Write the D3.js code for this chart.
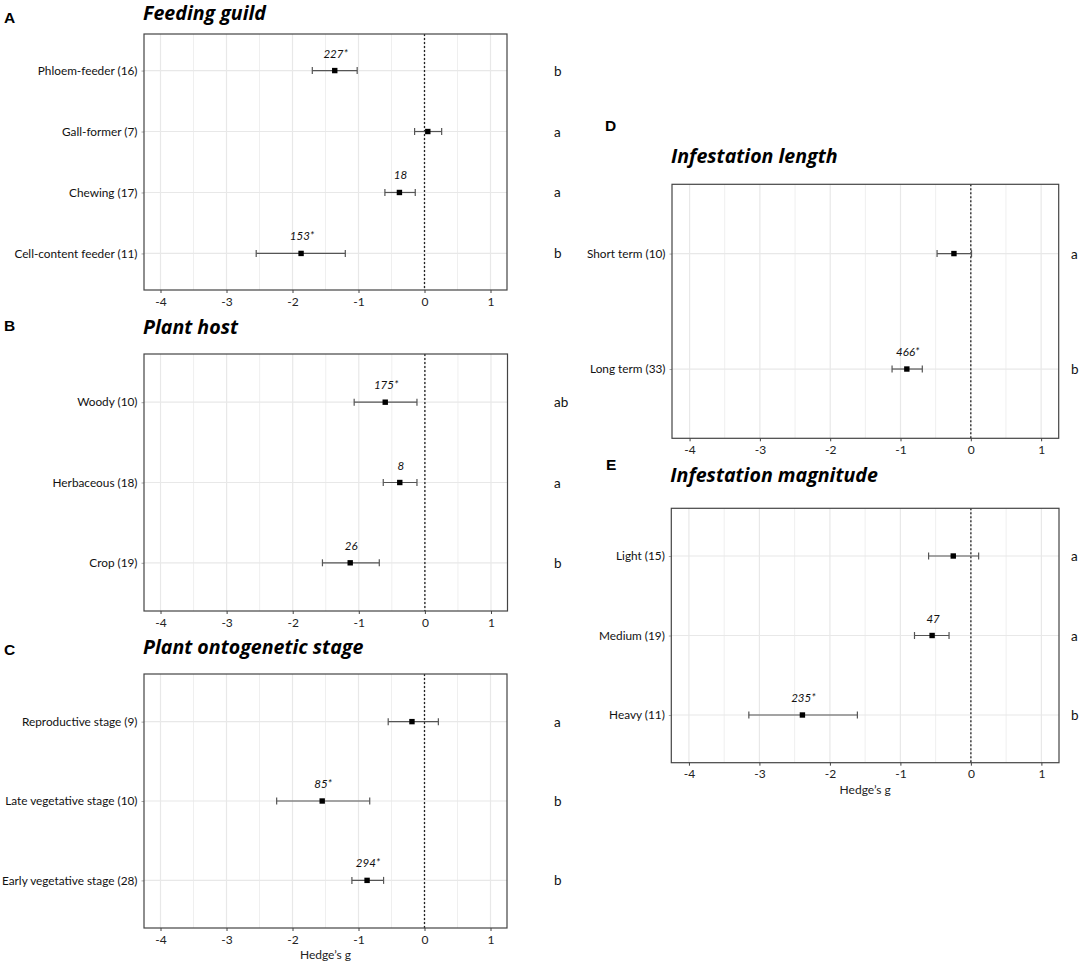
<!DOCTYPE html>
<html>
<head>
<meta charset="utf-8">
<script src="https://cdn.jsdelivr.net/npm/d3@7/dist/d3.min.js"></script>
<style>
  html, body { margin: 0; padding: 0; background: #fff; }
  svg { display: block; }
</style>
</head>
<body>
<svg id="chart" width="1084" height="966"></svg>
<script>
// ---------------- DATA ----------------
const xTicks = [-4, -3, -2, -1, 0, 1];
const xMinorTicks = [-4.5, -3.5, -2.5, -1.5, -0.5, 0.5];

// A: Feeding guild
const feedCats = ["Phloem-feeder (16)", "Gall-former (7)", "Chewing (17)", "Cell-content feeder (11)"];
const feedEst = [-1.36, 0.05, -0.38, -1.87];
const feedLo = [-1.70, -0.15, -0.60, -2.55];
const feedHi = [-1.02, 0.26, -0.14, -1.20];
const feedNote = ["227*", "", "18", "153*"];
const feedLetter = ["b", "a", "a", "b"];

// B: Plant host
const hostCats = ["Woody (10)", "Herbaceous (18)", "Crop (19)"];
const hostEst = [-0.60, -0.38, -1.13];
const hostLo = [-1.07, -0.63, -1.55];
const hostHi = [-0.12, -0.12, -0.69];
const hostNote = ["175*", "8", "26"];
const hostLetter = ["ab", "a", "b"];

// C: Plant ontogenetic stage
const stageCats = ["Reproductive stage (9)", "Late vegetative stage (10)", "Early vegetative stage (28)"];
const stageEst = [-0.19, -1.55, -0.87];
const stageLo = [-0.55, -2.24, -1.10];
const stageHi = [0.21, -0.83, -0.62];
const stageNote = ["", "85*", "294*"];
const stageLetter = ["a", "b", "b"];

// D: Infestation length
const lengthCats = ["Short term (10)", "Long term (33)"];
const lengthEst = [-0.24, -0.91];
const lengthLo = [-0.48, -1.12];
const lengthHi = [0.01, -0.69];
const lengthNote = ["", "466*"];
const lengthLetter = ["a", "b"];

// E: Infestation magnitude
const magCats = ["Light (15)", "Medium (19)", "Heavy (11)"];
const magEst = [-0.25, -0.55, -2.39];
const magLo = [-0.60, -0.80, -3.15];
const magHi = [0.11, -0.31, -1.61];
const magNote = ["", "47", "235*"];
const magLetter = ["a", "a", "b"];

const xLabel = "Hedge\u2019s g";

// ---------------- LAYOUT ----------------
const panels = [
  { tag: "A", title: "Feeding guild", cats: feedCats, est: feedEst, lo: feedLo, hi: feedHi, note: feedNote, letter: feedLetter,
    box: { l: 144, r: 507, t: 34, b: 290 }, tagPos: [4, 23], titleY: 19.5, letterX: 554, xlab: false },
  { tag: "B", title: "Plant host", cats: hostCats, est: hostEst, lo: hostLo, hi: hostHi, note: hostNote, letter: hostLetter,
    box: { l: 144, r: 507.5, t: 354, b: 611 }, tagPos: [4, 331], titleY: 333.5, letterX: 554, xlab: false },
  { tag: "C", title: "Plant ontogenetic stage", cats: stageCats, est: stageEst, lo: stageLo, hi: stageHi, note: stageNote, letter: stageLetter,
    box: { l: 144, r: 507, t: 674, b: 928 }, tagPos: [4, 655], titleY: 654, letterX: 554, xlab: true },
  { tag: "D", title: "Infestation length", cats: lengthCats, est: lengthEst, lo: lengthLo, hi: lengthHi, note: lengthNote, letter: lengthLetter,
    box: { l: 672, r: 1058.7, t: 184.3, b: 438.3 }, tagPos: [605, 131], titleY: 163, letterX: 1071, xlab: false },
  { tag: "E", title: "Infestation magnitude", cats: magCats, est: magEst, lo: magLo, hi: magHi, note: magNote, letter: magLetter,
    box: { l: 671.3, r: 1059, t: 508.3, b: 762.7 }, tagPos: [606, 470], titleY: 481.5, letterX: 1071, xlab: true }
];

const svg = d3.select("#chart");
const FONT = "Lato, 'Open Sans', sans-serif";
const TITLE_FONT = "'Open Sans', Lato, sans-serif";

panels.forEach(p => {
  const g = svg.append("g");
  const bx = p.box;
  const x = d3.scaleLinear().domain([-4.25, 1.25]).range([bx.l, bx.r]);
  const y = d3.scalePoint().domain(p.cats).range([bx.t, bx.b]).padding(0.6);

  // tag & title
  g.append("text").attr("x", p.tagPos[0]).attr("y", p.tagPos[1])
    .attr("font-family", "'Liberation Sans', Arial, sans-serif").attr("font-weight", "bold")
    .attr("font-size", 15.5).attr("fill", "#000").text(p.tag);
  g.append("text").attr("x", bx.l - 1).attr("y", p.titleY)
    .attr("font-family", TITLE_FONT).attr("font-weight", "bold").attr("font-style", "italic")
    .attr("font-size", 19.6).attr("fill", "#000").text(p.title);

  // grid lines
  g.selectAll(".minor").data(xMinorTicks.filter(v => x(v) > bx.l && x(v) < bx.r)).enter().append("line")
    .attr("x1", d => x(d)).attr("x2", d => x(d)).attr("y1", bx.t).attr("y2", bx.b)
    .attr("stroke", "#efefef").attr("stroke-width", 1);
  g.selectAll(".major").data(xTicks).enter().append("line")
    .attr("x1", d => x(d)).attr("x2", d => x(d)).attr("y1", bx.t).attr("y2", bx.b)
    .attr("stroke", "#e8e8e8").attr("stroke-width", 1.2);
  g.selectAll(".hgrid").data(p.cats).enter().append("line")
    .attr("x1", bx.l).attr("x2", bx.r).attr("y1", d => y(d)).attr("y2", d => y(d))
    .attr("stroke", "#e8e8e8").attr("stroke-width", 1.2);

  // zero line
  g.append("line").attr("x1", x(0)).attr("x2", x(0)).attr("y1", bx.t).attr("y2", bx.b)
    .attr("stroke", "#222").attr("stroke-width", 1.3).attr("stroke-dasharray", "2,2");

  // axes
  const xAxis = d3.axisBottom(x).tickValues(xTicks).tickSize(3).tickPadding(4).tickFormat(d3.format("d"));
  const ax = g.append("g").attr("transform", `translate(0,${bx.b})`).call(xAxis);
  ax.select(".domain").remove();
  ax.selectAll("line").attr("stroke", "#444");
  ax.selectAll("text").attr("font-family", FONT).attr("font-size", 12).attr("fill", "#222")
    .text(d => d < 0 ? "-" + Math.abs(d) : d);

  const yAxis = d3.axisLeft(y).tickSize(2.5).tickPadding(4);
  const ay = g.append("g").attr("transform", `translate(${bx.l},0)`).call(yAxis);
  ay.select(".domain").remove();
  ay.selectAll("line").attr("stroke", "#aaa");
  ay.selectAll("text").attr("font-family", FONT).attr("font-size", 11.8).attr("fill", "#111");

  // panel border
  g.append("rect").attr("x", bx.l).attr("y", bx.t).attr("width", bx.r - bx.l).attr("height", bx.b - bx.t)
    .attr("fill", "none").attr("stroke", "#444").attr("stroke-width", 1.2);

  const rows = p.cats.map((c, i) => ({ c, est: p.est[i], lo: p.lo[i], hi: p.hi[i], note: p.note[i], letter: p.letter[i] }));

  // error bars
  const eb = g.selectAll(".eb").data(rows).enter().append("g");
  eb.append("line").attr("x1", d => x(d.lo)).attr("x2", d => x(d.hi))
    .attr("y1", d => y(d.c)).attr("y2", d => y(d.c)).attr("stroke", "#555").attr("stroke-width", 1.2);
  eb.append("line").attr("x1", d => x(d.lo)).attr("x2", d => x(d.lo))
    .attr("y1", d => y(d.c) - 3.5).attr("y2", d => y(d.c) + 3.5).attr("stroke", "#555").attr("stroke-width", 1.2);
  eb.append("line").attr("x1", d => x(d.hi)).attr("x2", d => x(d.hi))
    .attr("y1", d => y(d.c) - 3.5).attr("y2", d => y(d.c) + 3.5).attr("stroke", "#555").attr("stroke-width", 1.2);
  // points
  eb.append("rect").attr("x", d => x(d.est) - 2.7).attr("y", d => y(d.c) - 2.7)
    .attr("width", 5.4).attr("height", 5.4).attr("fill", "#000");
  // notes
  eb.append("text").attr("x", d => x(d.est) + 1).attr("y", d => y(d.c) - 13)
    .attr("text-anchor", "middle").attr("font-family", FONT).attr("font-style", "italic")
    .attr("font-size", 11.5).attr("fill", "#111").text(d => d.note);
  // letters
  eb.append("text").attr("x", p.letterX).attr("y", d => y(d.c) + 5)
    .attr("font-family", FONT).attr("font-size", 13.5).attr("fill", "#111").text(d => d.letter);

  if (p.xlab) {
    g.append("text").attr("x", (bx.l + bx.r) / 2).attr("y", bx.b + 31)
      .attr("text-anchor", "middle").attr("font-family", FONT).attr("font-size", 12).attr("fill", "#222")
      .text(xLabel);
  }
});
</script>
</body>
</html>
